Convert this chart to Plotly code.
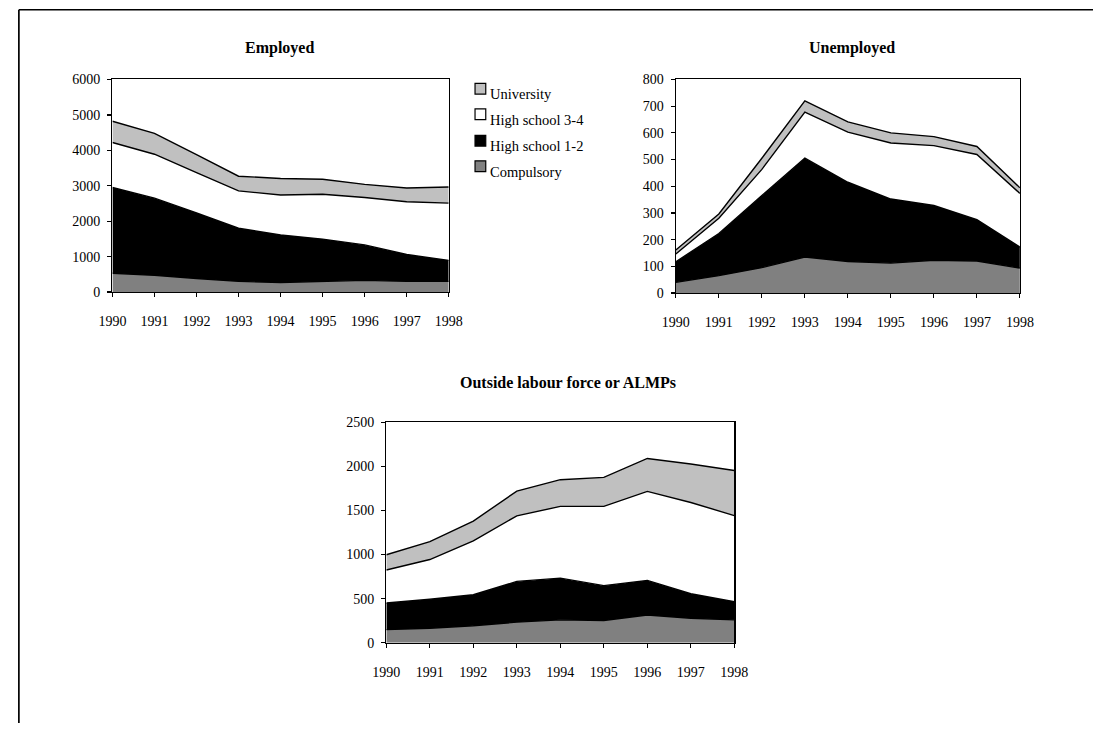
import plotly.graph_objects as go

W, H = 1107, 731

years = [1990, 1991, 1992, 1993, 1994, 1995, 1996, 1997, 1998]
series_names = ["Compulsory", "High school 1-2", "High school 3-4", "University"]
series_colors = ["#808080", "#000000", "#FFFFFF", "#C0C0C0"]

# Employed (persons)
emp_compulsory = [530, 470, 380, 300, 270, 300, 330, 300, 300]
emp_hs12 = [2420, 2180, 1855, 1500, 1345, 1195, 1000, 760, 595]
emp_hs34 = [1270, 1240, 1135, 1055, 1125, 1265, 1340, 1490, 1615]
emp_univ = [600, 590, 510, 415, 465, 425, 370, 385, 455]

# Unemployed
une_compulsory = [40, 65, 95, 135, 118, 112, 123, 120, 93]
une_hs12 = [77, 158, 270, 370, 297, 240, 205, 155, 79]
une_hs34 = [29, 57, 98, 173, 188, 210, 224, 244, 201]
une_univ = [15, 16, 42, 42, 38, 38, 34, 30, 21]

# Outside labour force or ALMPs
out_compulsory = [148, 163, 192, 233, 259, 251, 314, 277, 259]
out_hs12 = [303, 329, 352, 462, 473, 396, 392, 278, 207]
out_hs34 = [374, 451, 610, 744, 814, 899, 1010, 1035, 976]
out_univ = [173, 203, 225, 281, 303, 329, 374, 437, 511]

panel_titles = ["Employed", "Unemployed", "Outside labour force or ALMPs"]
y_ranges = [(0, 6000, 1000), (0, 800, 100), (0, 2500, 500)]

FONT = "Liberation Serif"

panels = [
    [emp_compulsory, emp_hs12, emp_hs34, emp_univ],
    [une_compulsory, une_hs12, une_hs34, une_univ],
    [out_compulsory, out_hs12, out_hs34, out_univ],
]

# pixel boxes of plot areas (left, right, top, bottom)
boxes = [(101, 446, 74, 291), (679, 1032, 74, 292), (382, 739, 424, 649)]
title_pos = [(272, 42), (860, 42), (568, 383)]


def px_x(x):
    return x / W


def px_y(y):
    return 1 - y / H


fig = go.Figure()

for i, data in enumerate(panels):
    ax = "" if i == 0 else str(i + 1)
    for j, vals in enumerate(data):
        fig.add_trace(go.Scatter(
            x=years, y=vals, name=series_names[j],
            mode="lines", stackgroup="g%d" % i,
            line=dict(color="black", width=1.4),
            fillcolor=series_colors[j],
            showlegend=False,
            xaxis="x" + ax, yaxis="y" + ax,
            hoverinfo="x+y+name",
        ))

layout = dict(
    width=W, height=H,
    margin=dict(l=0, r=0, t=0, b=0),
    paper_bgcolor="white", plot_bgcolor="white",
    font=dict(family=FONT, size=14, color="black"),
    showlegend=False,
)

for i, (l, r, t, b) in enumerate(boxes):
    ax = "" if i == 0 else str(i + 1)
    y0, y1, dy = y_ranges[i]
    layout["xaxis" + ax] = dict(
        domain=[px_x(l), px_x(r)], range=[1990, 1998],
        tickmode="array", tickvals=years, ticktext=[str(y) for y in years],
        showgrid=False, zeroline=False, showline=True, linecolor="black",
        linewidth=1.3, mirror=True, ticks="outside", ticklen=4, tickwidth=1.2,
        tickcolor="black", ticklabelstandoff=12,
        tickfont=dict(family=FONT, size=14),
        anchor="y" + ax, fixedrange=True,
    )
    layout["yaxis" + ax] = dict(
        domain=[px_y(b), px_y(t)], range=[y0, y1], dtick=dy, tick0=0,
        showgrid=False, zeroline=False, showline=True, linecolor="black",
        linewidth=1.3, mirror=True, ticks="outside", ticklen=4, tickwidth=1.2,
        tickcolor="black", ticklabelstandoff=4,
        tickfont=dict(family=FONT, size=14),
        anchor="x" + ax, fixedrange=True,
    )

annotations = []
for (tx, ty), txt in zip(title_pos, panel_titles):
    annotations.append(dict(
        x=px_x(tx), y=px_y(ty), xref="paper", yref="paper",
        text="<b>%s</b>" % txt, showarrow=False,
        xanchor="center", yanchor="middle",
        font=dict(family=FONT, size=16, color="black"),
    ))

shapes = []
# legend (University on top)
legend_order = [3, 2, 1, 0]
box_tops = [78, 104, 131, 157]
for k, j in enumerate(legend_order):
    bt = box_tops[k]
    shapes.append(dict(
        type="rect", xref="paper", yref="paper",
        x0=px_x(473), x1=px_x(484), y0=px_y(bt + 11), y1=px_y(bt),
        fillcolor=series_colors[j], line=dict(color="black", width=1.2),
    ))
    annotations.append(dict(
        x=px_x(486), y=px_y(bt + 11), xref="paper", yref="paper",
        text=series_names[j], showarrow=False,
        xanchor="left", yanchor="middle",
        font=dict(family=FONT, size=14.5, color="black"),
    ))

# outer frame (top and left edges)
shapes.append(dict(type="line", xref="paper", yref="paper",
                   x0=px_x(5), x1=1, y0=px_y(2.7), y1=px_y(2.7),
                   line=dict(color="black", width=1.5)))
shapes.append(dict(type="line", xref="paper", yref="paper",
                   x0=px_x(5), x1=px_x(5), y0=px_y(2.7), y1=0,
                   line=dict(color="black", width=1.7)))

layout["annotations"] = annotations
layout["shapes"] = shapes

fig.update_layout(**layout)
fig.write_html(
    "out.html",
    config={"displayModeBar": False, "staticPlot": True},
    post_script="document.body.style.margin='0';document.body.style.overflow='hidden';",
)
